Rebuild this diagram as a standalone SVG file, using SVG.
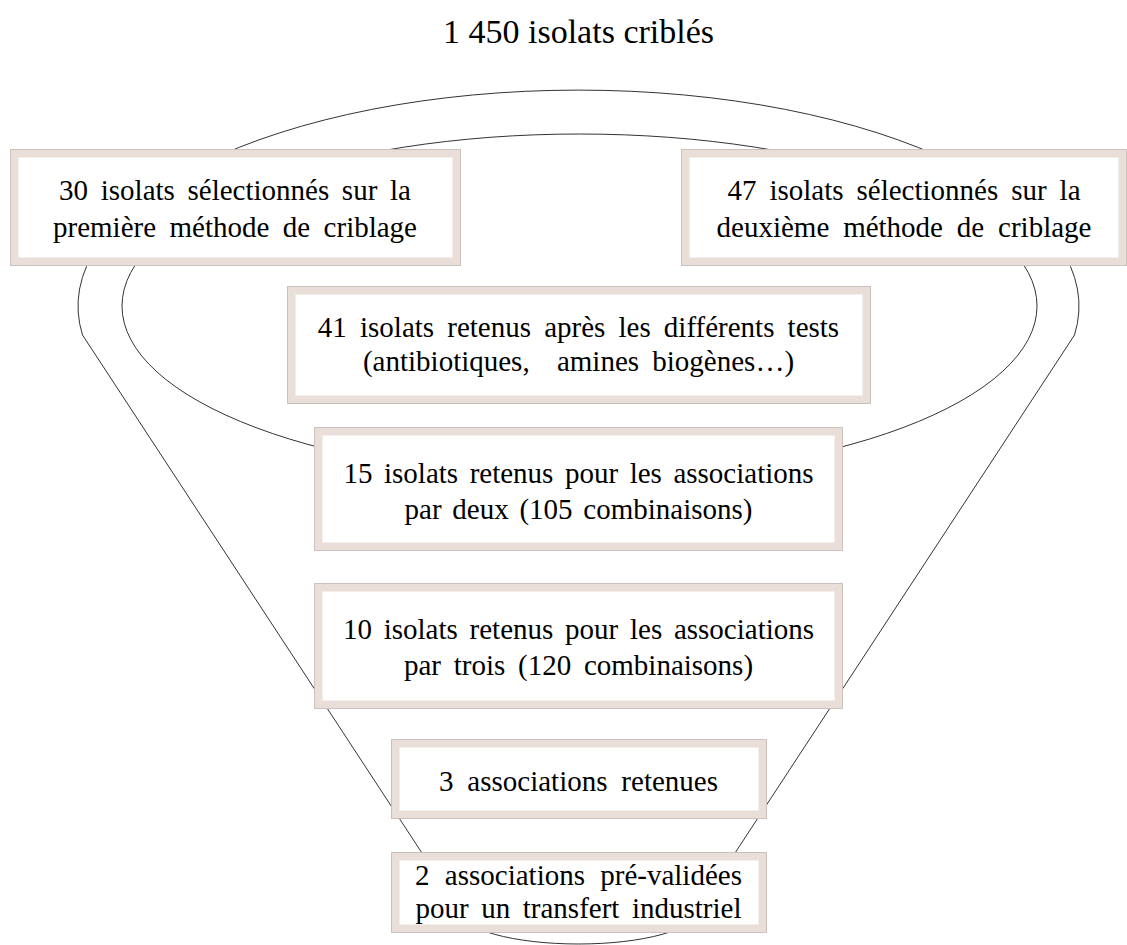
<svg xmlns="http://www.w3.org/2000/svg" width="1127" height="945" viewBox="0 0 1127 945">
<style>
.frame{fill:#eaded8;stroke:#cbc2bd;stroke-width:1}
.inner{fill:#ffffff;stroke:none}
.t{font-family:"Liberation Serif","Times New Roman",serif;font-size:29px;fill:#000;text-anchor:middle}
.title{font-family:"Liberation Serif","Times New Roman",serif;font-size:34px;fill:#000;text-anchor:middle}
.ln{fill:none;stroke:#333;stroke-width:1}
</style>
<rect x="0" y="0" width="1127" height="945" fill="#ffffff"/>
<text class="title" x="578.5" y="43">1 450 isolats criblés</text>
<g id="funnel">
<path class="ln" d="M 82.5 335 A 500.5 216 0 1 1 1074.5 335 L 697 911 A 118.5 33 0 0 1 460 911 Z"/>
<ellipse class="ln" cx="579.5" cy="306" rx="457.5" ry="172"/>
</g>
<g id="n1">
<rect class="frame" x="10.5" y="149.5" width="450" height="116"/>
<rect class="inner" x="18.5" y="157.5" width="434" height="100"/>
<text class="t" x="235" y="200" word-spacing="5.4">30 isolats sélectionnés sur la</text>
<text class="t" x="235" y="237" word-spacing="6.2">première méthode de criblage</text>
</g>
<g id="n2">
<rect class="frame" x="681.5" y="149.5" width="445" height="116"/>
<rect class="inner" x="689.5" y="157.5" width="429" height="100"/>
<text class="t" x="904" y="200" word-spacing="5.7">47 isolats sélectionnés sur la</text>
<text class="t" x="904" y="237" word-spacing="6.6">deuxième méthode de criblage</text>
</g>
<g id="n3">
<rect class="frame" x="287.5" y="286.5" width="583" height="117"/>
<rect class="inner" x="295.5" y="294.5" width="567" height="101"/>
<text class="t" x="578.5" y="337" word-spacing="5.9">41 isolats retenus après les différents tests</text>
<text class="t" x="578.5" y="371" word-spacing="6">(antibiotiques, <tspan dx="14">amines biogènes…)</tspan></text>
</g>
<g id="n4">
<rect class="frame" x="314.5" y="427.5" width="528" height="123"/>
<rect class="inner" x="322.5" y="435.5" width="512" height="107"/>
<text class="t" x="578.5" y="483" word-spacing="4.3">15 isolats retenus pour les associations</text>
<text class="t" x="578.5" y="519" word-spacing="3.5">par deux (105 combinaisons)</text>
</g>
<g id="n5">
<rect class="frame" x="314.5" y="583.5" width="528" height="125"/>
<rect class="inner" x="322.5" y="591.5" width="512" height="109"/>
<text class="t" x="578.5" y="639" word-spacing="4.5">10 isolats retenus pour les associations</text>
<text class="t" x="578.5" y="675" word-spacing="5.5">par trois (120 combinaisons)</text>
</g>
<g id="n6">
<rect class="frame" x="391.5" y="739.5" width="375" height="79"/>
<rect class="inner" x="399.5" y="747.5" width="359" height="63"/>
<text class="t" x="578.5" y="791" word-spacing="6.6">3 associations retenues</text>
</g>
<g id="n7">
<rect class="frame" x="391.5" y="852.5" width="375" height="80"/>
<rect class="inner" x="399.5" y="860.5" width="359" height="64"/>
<text class="t" x="578.5" y="885" word-spacing="8">2 associations pré-validées</text>
<text class="t" x="578.5" y="918" word-spacing="5.3">pour un transfert industriel</text>
</g>
</svg>
